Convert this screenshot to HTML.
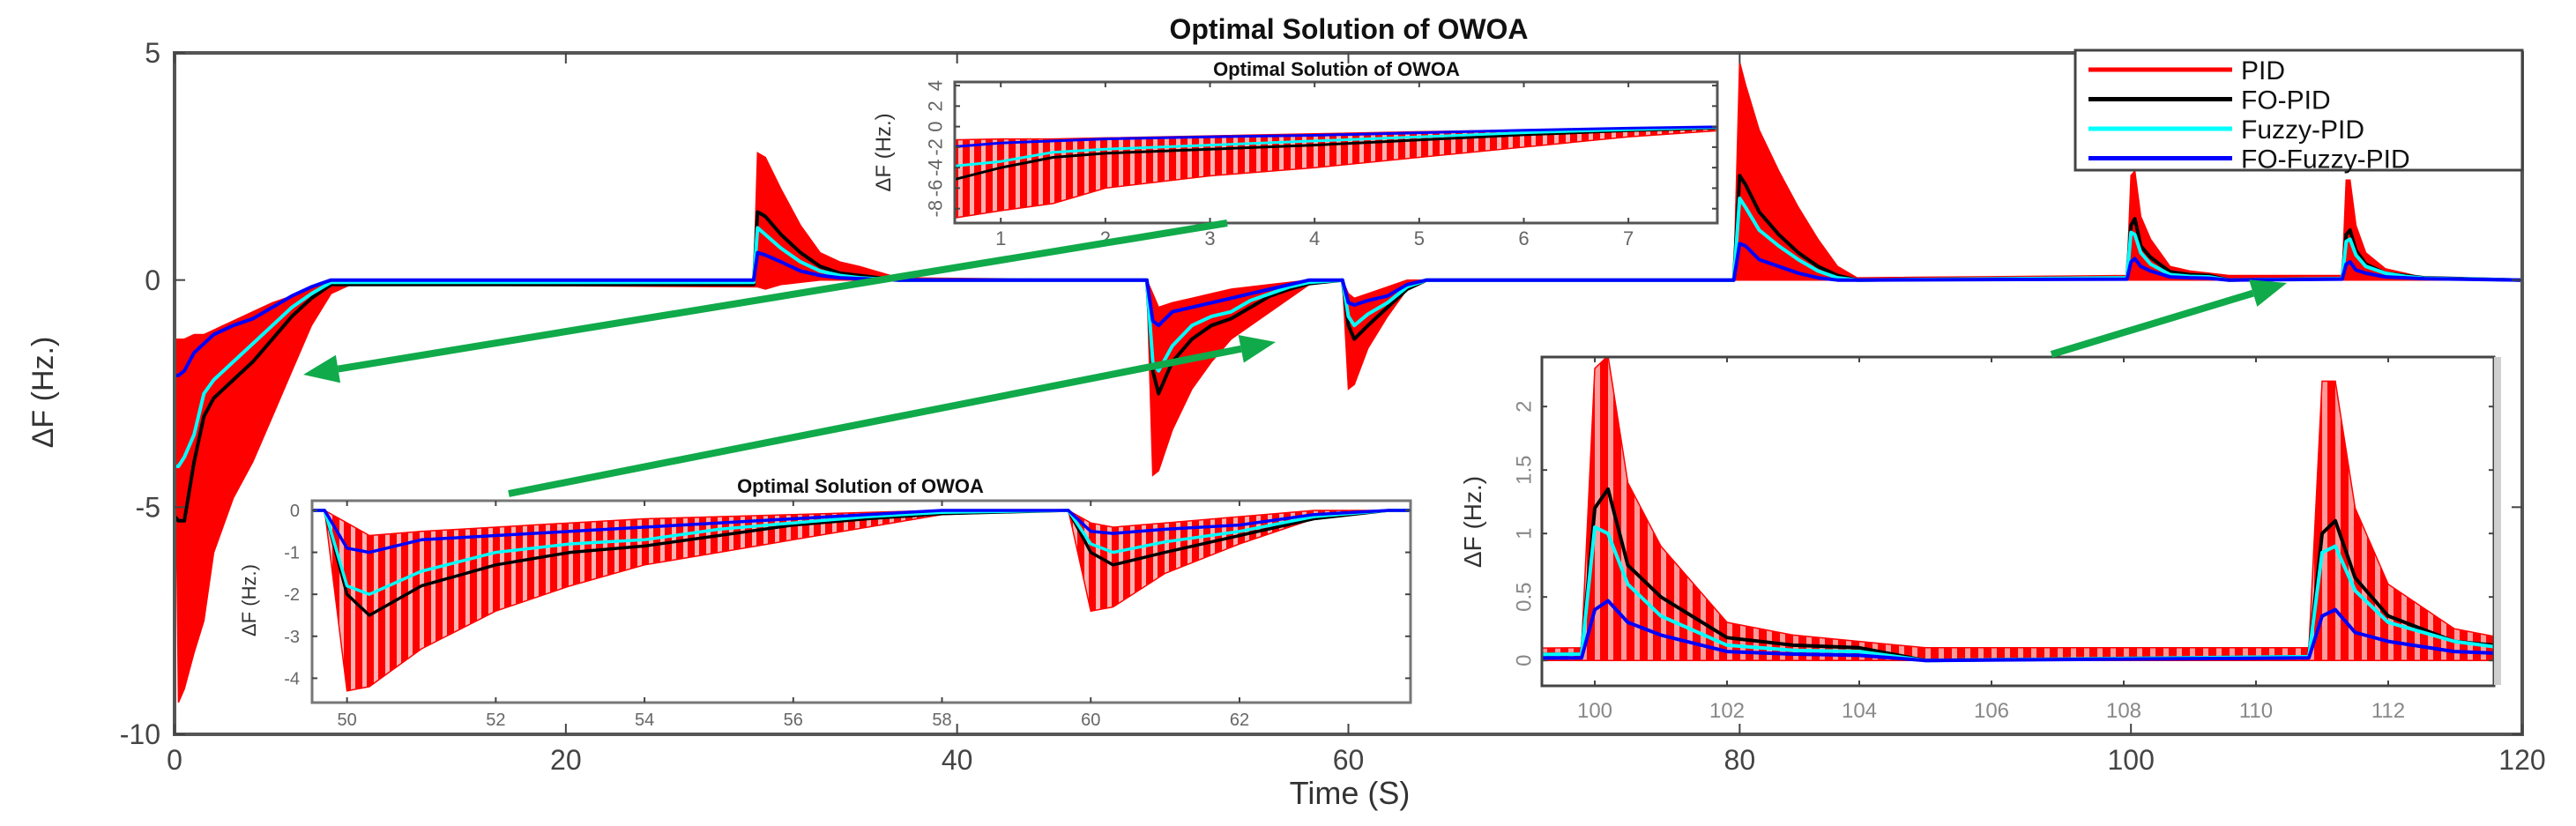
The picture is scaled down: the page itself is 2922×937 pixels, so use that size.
<!DOCTYPE html>
<html><head><meta charset="utf-8">
<style>
html,body{margin:0;padding:0;background:#fff;width:2922px;height:937px;overflow:hidden;}
svg{display:block;font-family:"Liberation Sans",Arial,sans-serif;}
</style></head>
<body>
<svg id="chart" width="2922" height="937" viewBox="0 0 2922 937" xmlns="http://www.w3.org/2000/svg">
<defs>
  <pattern id="stripeA" patternUnits="userSpaceOnUse" width="15" height="10"><rect x="0" y="0" width="9" height="10" fill="#ff0000"/><rect x="9" y="0" width="6" height="10" fill="#ff9a9a"/></pattern>
  <pattern id="stripeB" patternUnits="userSpaceOnUse" width="13" height="10"><rect x="0" y="0" width="8" height="10" fill="#ff0000"/><rect x="8" y="0" width="5" height="10" fill="#ffb0b0"/></pattern>
</defs>
<rect x="0" y="0" width="2922" height="937" fill="#fff"/>
<g id="layer"></g>
</svg>
<script>
// ---- data ----
const times = [0,0.2,0.5,1,1.5,2,3,4,5,6,7,8,9,
 29.6,29.8,30.2,31,32,33,34,35,37,
 49.7,50,50.3,51,52,53,54,55,56,57,58,
 59.7,60,60.3,61,62,63,64,
 79.7,80,80.3,81,82,83,84,85,86,
 99.8,100,100.2,100.5,101,102,103,104,105,
 110.8,111,111.2,111.5,112,113,114,115,120];
const pidHigh = [-1.3,-1.3,-1.3,-1.2,-1.2,-1.1,-0.9,-0.7,-0.5,-0.35,-0.15,0,0,
 0,2.8,2.7,2.0,1.2,0.6,0.4,0.3,0.05,
 0,-0.3,-0.6,-0.5,-0.4,-0.3,-0.2,-0.15,-0.1,-0.05,0,
 0,-0.3,-0.4,-0.3,-0.15,0,0,
 0,4.8,4.3,3.3,2.4,1.6,0.9,0.3,0.05,
 0.1,2.3,2.4,1.4,0.9,0.3,0.2,0.15,0.1,
 0.1,2.2,2.2,1.2,0.6,0.25,0.15,0.05,0];
const pidLow = [-1.3,-9.3,-9.0,-8.2,-7.5,-6.0,-4.8,-4.0,-3.0,-2.0,-1.0,-0.3,-0.1,
 -0.15,-0.15,-0.2,-0.1,-0.05,0,0,0,0,
 0,-4.3,-4.2,-3.3,-2.4,-1.8,-1.3,-1.0,-0.7,-0.4,-0.1,
 0,-2.4,-2.3,-1.5,-0.8,-0.2,0,
 0,0,0,0,0,0,0,0,0,
 0,0,0,0,0,0,0,0,0,
 0,0,0,0,0,0,0,0,0];
const foPid = [-5.2,-5.3,-5.3,-4.0,-3.0,-2.6,-2.2,-1.8,-1.3,-0.8,-0.4,-0.1,-0.1,
 -0.1,1.5,1.4,1.0,0.6,0.3,0.15,0.1,0,
 0,-2.0,-2.5,-1.8,-1.3,-1.0,-0.85,-0.6,-0.35,-0.2,-0.08,
 0,-1.0,-1.3,-1.0,-0.6,-0.2,0,
 0,2.3,2.1,1.5,1.0,0.6,0.3,0.1,0,
 0.05,1.2,1.35,0.75,0.5,0.18,0.12,0.1,0,
 0.03,1.0,1.1,0.65,0.35,0.15,0.1,0.05,0];
const fuzzyPid = [-4.1,-4.1,-3.9,-3.4,-2.5,-2.2,-1.8,-1.4,-1.0,-0.6,-0.3,-0.05,-0.05,
 -0.05,1.15,1.0,0.7,0.4,0.2,0.1,0.05,0,
 0,-1.8,-2.0,-1.45,-1.0,-0.8,-0.7,-0.45,-0.3,-0.15,-0.05,
 0,-0.8,-1.0,-0.75,-0.5,-0.15,0,
 0,1.8,1.6,1.1,0.75,0.45,0.2,0.05,0,
 0.05,1.05,1.0,0.6,0.35,0.12,0.08,0.07,0,
 0.03,0.85,0.9,0.55,0.3,0.15,0.08,0.04,0];
const foFuzzyPid = [-2.1,-2.1,-2.0,-1.6,-1.4,-1.2,-1.0,-0.85,-0.6,-0.35,-0.15,0,0,
 0,0.6,0.55,0.4,0.2,0.1,0.05,0.03,0,
 0,-0.9,-1.0,-0.7,-0.6,-0.5,-0.4,-0.3,-0.2,-0.1,0,
 0,-0.5,-0.55,-0.45,-0.35,-0.1,0,
 0,0.8,0.75,0.45,0.3,0.15,0.05,0,0,
 0.02,0.4,0.47,0.3,0.2,0.07,0.05,0.04,0,
 0.02,0.35,0.4,0.22,0.15,0.07,0.05,0.03,0];
const legendLabels = ["PID","FO-PID","Fuzzy-PID","FO-Fuzzy-PID"];
const mainXTicks = [0,20,40,60,80,100,120];
const mainYTicks = [5,0,-5,-10];
const inset1XTicks = [1,2,3,4,5,6,7];
const inset1YTicks = [4,2,0,-2,-4,-6,-8];
const inset2XTicks = [50,52,54,56,58,60,62];
const inset2YTicks = [0,-1,-2,-3,-4];
const inset3XTicks = [100,102,104,106,108,110,112];
const inset3YTicks = [0,0.5,1,1.5,2];

const NS = "http://www.w3.org/2000/svg";
const layer = document.getElementById('layer');
function mk(tag, attrs, parent){
  const e = document.createElementNS(NS, tag);
  for (const k in attrs) e.setAttribute(k, attrs[k]);
  (parent||layer).appendChild(e);
  return e;
}
function scale(d0,d1,r0,r1){ return v => r0 + (v-d0)/(d1-d0)*(r1-r0); }

let clipId = 0;
function panel(name, box, xd, yd, opts){
  const x = scale(xd[0], xd[1], box.l, box.r);
  const y = scale(yd[0], yd[1], box.b, box.t);
  const g = mk('g', {});
  
  
  mk('rect', {x:box.l, y:box.t, width:box.r-box.l, height:box.b-box.t, fill:'#fff'}, g);
  const cid = 'clip' + (clipId++);
  const cp = mk('clipPath', {id:cid}, g);
  mk('rect', {x:box.l, y:box.t, width:box.r-box.l, height:box.b-box.t}, cp);
  const plot = mk('g', {'clip-path':'url(#'+cid+')'}, g);
  let d = '';
  for (let i=0;i<times.length;i++) d += (i?'L':'M') + x(times[i]).toFixed(1) + ' ' + y(pidHigh[i]).toFixed(1);
  for (let i=times.length-1;i>=0;i--) d += 'L' + x(times[i]).toFixed(1) + ' ' + y(pidLow[i]).toFixed(1);
  const band = mk('path', {d: d+'Z', fill: opts.fill, stroke:'#ff0000', 'stroke-width':1.5}, plot);
  
  
  const series = [[foPid,'#000000','fo-pid-series'],[fuzzyPid,'#00ffff','fuzzy-pid-series'],[foFuzzyPid,'#0000ff','fo-fuzzy-pid-series']];
  series.forEach(s => {
    let p = '';
    for (let i=0;i<times.length;i++) p += (i?'L':'M') + x(times[i]).toFixed(1) + ' ' + y(s[0][i]).toFixed(1);
    const ln = mk('path', {d:p, fill:'none', stroke:s[1], 'stroke-width':opts.lw, 'stroke-linejoin':'round'}, plot);
    
    
  });
  mk('rect', {x:box.l, y:box.t, width:box.r-box.l, height:box.b-box.t, fill:'none', stroke:opts.frame, 'stroke-width':opts.fw}, g);
  opts.xt.forEach(v => {
    const px = x(v);
    mk('line', {x1:px, x2:px, y1:box.b, y2:box.b-opts.tl, stroke:'#444', 'stroke-width':2}, g);
    mk('line', {x1:px, x2:px, y1:box.t, y2:box.t+opts.tl, stroke:'#444', 'stroke-width':2}, g);
    const t = mk('text', {x:px, y:box.b+opts.xlo, 'text-anchor':'middle', 'font-size':opts.fs, fill:opts.tc}, g);
    t.textContent = v;
    
    
  });
  opts.yt.forEach(v => {
    const py = y(v);
    mk('line', {x1:box.l, x2:box.l+opts.tl, y1:py, y2:py, stroke:'#444', 'stroke-width':2}, g);
    mk('line', {x1:box.r, x2:box.r-opts.tl, y1:py, y2:py, stroke:'#444', 'stroke-width':2}, g);
    let t;
    if (opts.rot) {
      const tx = box.l - opts.ylo, ty = py;
      t = mk('text', {x:tx, y:ty, 'text-anchor':'middle', 'font-size':opts.fs, fill:opts.tc, transform:'rotate(-90 '+tx+' '+ty+')', 'dominant-baseline':'central'}, g);
    } else {
      t = mk('text', {x:box.l - opts.ylo, y:py + opts.fs*0.35, 'text-anchor':'end', 'font-size':opts.fs, fill:opts.tc}, g);
    }
    t.textContent = v;
    
    
  });
  const yl = mk('text', {x:opts.ylx, y:opts.yly, 'text-anchor':'middle', 'font-size':opts.yfs, fill:'#333', transform:'rotate(-90 '+opts.ylx+' '+opts.yly+')'}, g);
  yl.textContent = 'ΔF (Hz.)';
  
  
  if (opts.title) {
    const tt = mk('text', {x:opts.title[0], y:opts.title[1], 'text-anchor':'middle', 'font-size':opts.title[2], 'font-weight':'bold', fill:'#111'}, g);
    tt.textContent = 'Optimal Solution of OWOA';
    
    
  }
  return g;
}

panel('main-axes', {l:198, r:2861, t:60, b:833}, [0,120], [-10,5],
  {fill:'#ff0000', lw:4, frame:'#555', fw:4, tl:12, xt:mainXTicks, yt:mainYTicks, fs:32, tc:'#444', xlo:40, ylo:16, rot:false, ylx:60, yly:445, yfs:34});

const mt = mk('text', {x:1530, y:44, 'text-anchor':'middle', 'font-size':32, 'font-weight':'bold', fill:'#111'});
mt.textContent = 'Optimal Solution of OWOA';


const xl = mk('text', {x:1531, y:912, 'text-anchor':'middle', 'font-size':36, fill:'#333'});
xl.textContent = 'Time (S)';



panel('inset-initial-response', {l:1083, r:1948, t:93, b:253}, [0.56,7.85], [-9.4,4.35],
  {fill:'url(#stripeB)', lw:3, frame:'#555', fw:3, tl:6, xt:inset1XTicks, yt:inset1YTicks, fs:22, tc:'#666', xlo:25, ylo:22, rot:true, ylx:1010, yly:173, yfs:24,
   title:[1516, 86, 22]});
panel('inset-50s-response', {l:354, r:1600, t:568, b:797}, [49.53,64.3], [-4.58,0.23],
  {fill:'url(#stripeB)', lw:3.5, frame:'#777', fw:3, tl:6, xt:inset2XTicks, yt:inset2YTicks, fs:20, tc:'#666', xlo:26, ylo:14, rot:false, ylx:290, yly:681, yfs:22,
   title:[976, 559, 22]});
panel('inset-100s-response', {l:1749, r:2829, t:405, b:778}, [99.2,113.6], [-0.2,2.39],
  {fill:'url(#stripeA)', lw:4, frame:'#444', fw:3, tl:6, xt:inset3XTicks, yt:inset3YTicks, fs:24, tc:'#888', xlo:36, ylo:20, rot:true, ylx:1680, yly:592, yfs:28});
mk('rect', {x:2829, y:405, width:8, height:372, fill:'#cfcfcf'});

const lg = mk('g', {});


mk('rect', {x:2354, y:57, width:507, height:136, fill:'#fff', stroke:'#444', 'stroke-width':3}, lg);
const legendColors = ['#ff0000','#000000','#00ffff','#0000ff'];
legendLabels.forEach((lab, i) => {
  const ly = 79 + i*33.5;
  const e = mk('g', {}, lg);
  
  
  mk('line', {x1:2369, x2:2532, y1:ly, y2:ly, stroke:legendColors[i], 'stroke-width':5}, e);
  const t = mk('text', {x:2542, y:ly+11, 'font-size':30, fill:'#111'}, e);
  t.textContent = lab;
});

function arrow(name, x1,y1,x2,y2){
  const g = mk('g', {});
  
  
  const ang = Math.atan2(y2-y1, x2-x1), L = 40, W = 16;
  const bx = x2 - L*Math.cos(ang), by = y2 - L*Math.sin(ang);
  mk('line', {x1:x1, y1:y1, x2:bx, y2:by, stroke:'#10aa4a', 'stroke-width':8}, g);
  const px = -Math.sin(ang), py = Math.cos(ang);
  mk('polygon', {points: x2+','+y2+' '+(bx+px*W)+','+(by+py*W)+' '+(bx-px*W)+','+(by-py*W), fill:'#10aa4a'}, g);
}
arrow('zoom-arrow-initial', 1392, 253, 344, 425);
arrow('zoom-arrow-50s', 577, 560, 1447, 388);
arrow('zoom-arrow-100s', 2327, 402, 2594, 321);
</script>
</body></html>
